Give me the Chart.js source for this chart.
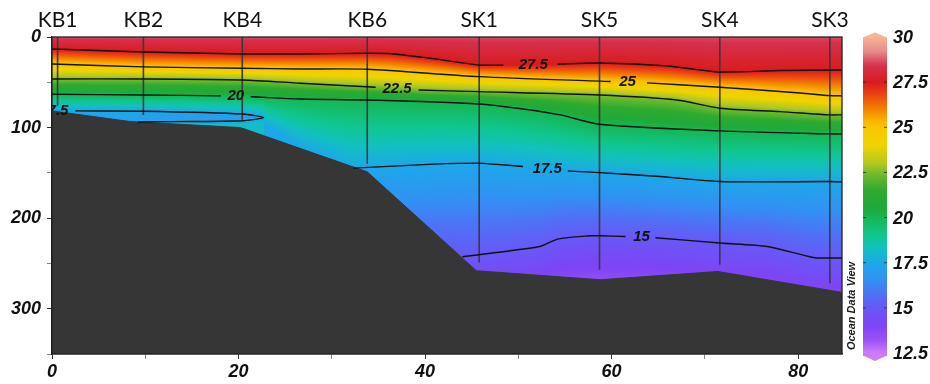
<!DOCTYPE html>
<html>
<head>
<meta charset="utf-8">
<script src="https://cdn.jsdelivr.net/npm/chart.js@4.4.1/dist/chart.umd.min.js"></script>
<style>
  html, body { margin: 0; padding: 0; background: #ffffff; }
  #wrap { width: 930px; height: 384px; position: relative; }
</style>
</head>
<body>
<div id="wrap"><canvas id="section" width="930" height="384"></canvas></div>
<script>
// ---- Stations along the transect ----
const stationNames = ['KB1', 'KB2', 'KB4', 'KB6', 'SK1', 'SK5', 'SK4', 'SK3'];
const stationKm    = [0.6, 9.8, 20.4, 33.8, 45.8, 58.7, 71.6, 83.4];
const castDepth    = [76, 86, 91.5, 140, 249, 257, 251.5, 272];

// ---- Sea floor profile (km, m) ----
const bottomKm    = [0, 8.4, 20.2, 33.8, 45.5, 58.8, 71.4, 84.7];
const bottomDepth = [81.6, 93.4, 100, 148.9, 258.1, 268, 258.9, 282];

// ---- Isotherms: [distance km, depth m] ----
const iso27_5 = [[0,13.2],[9.8,16.5],[20.4,18.7],[26.6,18.7],[33.8,18],[36.3,18.5],[40.9,24],[45.8,30.9],[48.4,31],[51.6,31],[54.2,30],[58.7,28.7],[66,32],[71.6,38.6],[78,37],[84.7,36.4]];
const iso25   = [[0,29.8],[9.8,33],[20.4,34.5],[26.6,35.3],[33.8,35.6],[45.8,43.8],[59.9,49.2],[61.7,50],[63.8,50.7],[71.6,55.5],[80.2,61.8],[83.4,64.7],[84.7,65]];
const iso22_5 = [[0,46.3],[9.8,46.3],[20.4,47.4],[26.6,51],[34.7,55.5],[37,57],[39.3,58.5],[45.8,60.3],[58.7,64],[67,69.5],[71.6,78.6],[78.1,82.4],[83.4,86],[84.7,86]];
const iso20   = [[0,63.2],[9.8,64],[18.1,65],[19.7,65.5],[21.3,66],[26.6,68.4],[33.8,69.5],[45.8,73.9],[49.9,78.6],[54.5,86],[58.7,96.3],[71.6,103.7],[83.4,107],[84.7,107]];
const iso17_5 = [[32.3,144.8],[40.9,140.4],[45.8,139.3],[47.3,140.4],[50.5,143],[53.1,145.6],[55.3,147.8],[58.7,149.7],[65.2,154],[71.6,159.6],[83.4,159.6],[84.7,160]];
const iso15   = [[44,242.6],[52.3,231.3],[54.2,223.1],[57.7,219.5],[58.7,219.5],[61.5,220.3],[63.2,220.9],[64.7,221.7],[71.6,227.5],[76.7,231.3],[81.6,243.4],[83.4,244],[84.7,244]];
// closed 17.5 pocket over the shelf
const lensUpper = [[0,81],[2.5,81.6],[9.8,82],[20.4,85],[22.7,89]];
const lensLower = [[22.7,89],[20.4,92.4],[12.7,93.4],[9.2,93.8]];
// 17.5 level on the outer shelf, where it runs along the sea floor (shading only)
const iso17_5Shelf = [[22.7,96],[27,122],[32.3,144.8]];

// ---- Isotherm labels ----
const labelText    = ['27.5', '25', '22.5', '20', '17.5', '15', '17.5'];
const labelKm      = [51.6, 61.7, 37.0, 19.7, 53.1, 63.2, 0.2];
const labelDepth   = [31, 50, 57, 65.5, 145.6, 220.9, 81];
const labelGapFrom = [48.4, 59.9, 34.7, 18.1, 50.5, 61.5, 0];
const labelGapTo   = [54.2, 63.8, 39.3, 21.3, 55.3, 64.7, 2.5];

// ---- Temperature scale ----
const colorbarTicks = [30, 27.5, 25, 22.5, 20, 17.5, 15, 12.5];
const surfaceTemp = 28.6;

const paletteTemp  = [12.5, 13.2, 14, 15, 15.8, 16.5, 17.5, 18.3, 19, 20, 20.5, 21.5, 22.5, 23, 24, 25, 25.3, 26, 26.8, 27.5, 28.4, 29.2, 30];
const paletteColor = ['#cc7cf8','#9c52f8','#7e44f6','#6858f6','#4e72f6','#3290f4','#1ca8e8','#12c0c0','#10c690','#16b652','#1eaa3a','#2eaa30','#78bc2c','#b4c820','#eed400','#f8c600','#f8b800','#f48200','#ec4412','#d81c1e','#d6304e','#e68a8c','#f6b690'];

function hexRgb(h) { return [parseInt(h.slice(1,3),16), parseInt(h.slice(3,5),16), parseInt(h.slice(5,7),16)]; }
const paletteRgb = paletteColor.map(hexRgb);
const LUT_N = 1024, lut = [];
for (let i = 0; i < LUT_N; i++) {
  const t = 12.5 + (30 - 12.5) * i / (LUT_N - 1);
  let k = 1; while (k < paletteTemp.length - 1 && t > paletteTemp[k]) k++;
  const f = Math.min(1, Math.max(0, (t - paletteTemp[k-1]) / (paletteTemp[k] - paletteTemp[k-1])));
  const a = paletteRgb[k-1], b = paletteRgb[k];
  lut.push([a[0]+(b[0]-a[0])*f, a[1]+(b[1]-a[1])*f, a[2]+(b[2]-a[2])*f].map(Math.round));
}
function colorFor(t) {
  const i = Math.round((Math.min(30, Math.max(12.5, t)) - 12.5) / 17.5 * (LUT_N - 1));
  return lut[i];
}

function interp(pts, x) {
  if (x <= pts[0][0]) return pts[0][1];
  for (let i = 1; i < pts.length; i++) {
    if (x <= pts[i][0]) {
      const [x0, y0] = pts[i-1], [x1, y1] = pts[i];
      return y0 + (y1 - y0) * (x - x0) / (x1 - x0);
    }
  }
  return pts[pts.length-1][1];
}
const lensLowerAsc = lensLower.slice().sort((a, b) => a[0] - b[0]);
const lensTipKm = lensUpper[lensUpper.length-1][0];

// temperature profile at one distance, built from the isotherm depths
function profileAt(km) {
  const nodes = [[0, surfaceTemp], [interp(iso27_5, km), 27.5], [interp(iso25, km), 25], [interp(iso22_5, km), 22.5], [interp(iso20, km), 20]];
  let lens = null, grad17 = 0.025;
  if (km >= iso17_5[0][0]) nodes.push([interp(iso17_5, km), 17.5]);
  else if (km <= lensTipKm) {
    const u = interp(lensUpper, km);
    nodes.push([u, 17.5]);
    if (km >= lensLowerAsc[0][0]) lens = { u, l: interp(lensLowerAsc, km) };
  } else {
    nodes.push([interp(iso17_5Shelf, km), 17.5]);
    grad17 = 0.01;
  }
  if (km >= iso15[0][0]) nodes.push([interp(iso15, km), 15]);
  const last = nodes[nodes.length-1];
  const grad = last[1] === 17.5 ? grad17 : 0.03;
  return function (d) {
    if (lens && d > lens.u) {
      if (d < lens.l) return 17.5 - 0.35 * Math.sin(Math.PI * (d - lens.u) / Math.max(0.5, lens.l - lens.u));
      return Math.min(17.5 + 0.12 * (d - lens.l), 18.2);
    }
    if (d >= last[0]) return Math.max(12.6, last[1] - grad * (d - last[0]));
    for (let n = 1; n < nodes.length; n++) {
      if (d <= nodes[n][0]) {
        const [d0, t0] = nodes[n-1], [d1, t1] = nodes[n];
        return t0 + (t1 - t0) * (d - d0) / Math.max(1e-6, d1 - d0);
      }
    }
    return last[1];
  };
}

// paints the gridded temperature field under the datasets
const fieldPlugin = {
  id: 'tempField',
  beforeDatasetsDraw(chart) {
    const { ctx, chartArea: a, scales: { x, y } } = chart;
    const w = Math.round(a.right - a.left), h = Math.round(a.bottom - a.top);
    const off = document.createElement('canvas');
    off.width = w; off.height = h;
    const octx = off.getContext('2d');
    const img = octx.createImageData(w, h);
    const depths = new Float32Array(h);
    for (let j = 0; j < h; j++) depths[j] = y.getValueForPixel(a.top + j + 0.5);
    for (let i = 0; i < w; i++) {
      const prof = profileAt(x.getValueForPixel(a.left + i + 0.5));
      for (let j = 0; j < h; j++) {
        const c = colorFor(prof(depths[j]));
        const k = (j * w + i) * 4;
        img.data[k] = c[0]; img.data[k+1] = c[1]; img.data[k+2] = c[2]; img.data[k+3] = 255;
      }
    }
    octx.putImageData(img, 0, 0);
    ctx.save();
    ctx.drawImage(off, a.left, a.top);
    ctx.restore();
  }
};

// isotherm labels, station names, frame, colour bar
const decorPlugin = {
  id: 'decor',
  afterDatasetsDraw(chart) {
    const { ctx, chartArea: a, scales: { x, y } } = chart;
    ctx.save();
    ctx.beginPath(); ctx.rect(a.left, a.top, a.right - a.left, a.bottom - a.top); ctx.clip();
    ctx.font = 'italic bold 15px "Liberation Sans", Arial, sans-serif';
    ctx.fillStyle = '#111';
    ctx.textAlign = 'center'; ctx.textBaseline = 'middle';
    labelText.forEach((t, i) => ctx.fillText(t, x.getPixelForValue(labelKm[i]), y.getPixelForValue(labelDepth[i])));
    ctx.restore();
  },
  afterDraw(chart) {
    const { ctx, chartArea: a, scales: { x } } = chart;
    ctx.save();
    // frame
    ctx.strokeStyle = '#222'; ctx.lineWidth = 1.3;
    ctx.strokeRect(a.left, a.top, a.right - a.left, a.bottom - a.top);
    // station names
    ctx.font = '21px Lato, "Liberation Sans", sans-serif';
    ctx.fillStyle = '#111'; ctx.textAlign = 'center'; ctx.textBaseline = 'alphabetic';
    stationNames.forEach((n, i) => ctx.fillText(n, x.getPixelForValue(stationKm[i]), 27));
    // colour bar
    const bx = 863, bw = 24, yTop = a.top, yBot = a.top + 316;
    const tToY = t => yTop + (30 - t) / 17.5 * (yBot - yTop);
    for (let py = Math.floor(yTop); py < yBot + 3; py++) {
      const t = 30 - (py + 0.5 - yTop) / (yBot - yTop) * 17.5;
      const c = colorFor(t);
      ctx.fillStyle = `rgb(${c[0]},${c[1]},${c[2]})`;
      ctx.fillRect(bx, py, bw, 1);
    }
    let c = colorFor(30);
    ctx.fillStyle = `rgb(${c[0]},${c[1]},${c[2]})`;
    ctx.beginPath(); ctx.moveTo(bx, yTop + 0.5); ctx.lineTo(bx + bw / 2, yTop - 4.5); ctx.lineTo(bx + bw, yTop + 0.5); ctx.closePath(); ctx.fill();
    c = colorFor(12.5);
    ctx.fillStyle = `rgb(${c[0]},${c[1]},${c[2]})`;
    ctx.beginPath(); ctx.moveTo(bx, yBot + 2.5); ctx.lineTo(bx + bw / 2, yBot + 8); ctx.lineTo(bx + bw, yBot + 2.5); ctx.closePath(); ctx.fill();
    ctx.strokeStyle = 'rgba(40,40,40,0.8)'; ctx.lineWidth = 1;
    ctx.font = 'italic bold 18px "Liberation Sans", Arial, sans-serif';
    ctx.fillStyle = '#111'; ctx.textAlign = 'left'; ctx.textBaseline = 'middle';
    colorbarTicks.forEach(t => {
      const ty = tToY(t);
      if (t < 30 && t > 12.5) {
        ctx.beginPath();
        ctx.moveTo(bx, ty); ctx.lineTo(bx + 3, ty);
        ctx.moveTo(bx + bw - 3, ty); ctx.lineTo(bx + bw, ty);
        ctx.stroke();
      }
      ctx.fillText(String(t), 893, ty + 1);
    });
    // watermark
    ctx.translate(852, 306);
    ctx.rotate(-Math.PI / 2);
    ctx.font = 'italic bold 11px "Liberation Sans", Arial, sans-serif';
    ctx.fillStyle = '#1a1a1a'; ctx.textAlign = 'center'; ctx.textBaseline = 'middle';
    ctx.fillText('Ocean Data View', 0, 0);
    ctx.restore();
  }
};

const toXY = pts => pts.map(([x, y]) => ({ x, y }));
function gapStyle(from, to) {
  return ctx => {
    const a = ctx.p0.parsed.x, b = ctx.p1.parsed.x;
    const inside = v => v >= from - 1e-6 && v <= to + 1e-6;
    return (inside(a) && inside(b)) ? 'rgba(0,0,0,0)' : '#111';
  };
}

const isolines = [iso27_5, iso25, iso22_5, iso20, iso17_5, iso15, lensUpper.concat(lensLower.slice(1))];
const datasets = [];
datasets.push({
  data: bottomKm.map((k, i) => ({ x: k, y: bottomDepth[i] })),
  showLine: true, fill: { value: 350 }, backgroundColor: '#363636', borderColor: '#363636',
  borderWidth: 1, pointRadius: 0, order: 10
});
isolines.forEach((pts, i) => datasets.push({
  data: toXY(pts), showLine: true, fill: false, borderColor: '#111', borderWidth: 1.4,
  pointRadius: 0, tension: 0.25, order: 1,
  segment: { borderColor: gapStyle(labelGapFrom[i], labelGapTo[i]) }
}));
stationKm.forEach((k, i) => datasets.push({
  data: [{ x: k, y: 0 }, { x: k, y: castDepth[i] }], showLine: true, fill: false,
  borderColor: '#3a3a3a', borderWidth: 1.6, pointRadius: 0, order: 2
}));

const tickFont = { family: '"Liberation Sans", Arial, sans-serif', size: 18, style: 'italic', weight: 'bold' };
new Chart(document.getElementById('section'), {
  type: 'scatter',
  data: { datasets },
  options: {
    responsive: false, animation: false, events: [],
    layout: { padding: { top: 37, right: 88, left: 0, bottom: 0 } },
    plugins: { legend: { display: false }, tooltip: { enabled: false } },
    scales: {
      x: {
        type: 'linear', min: 0, max: 84.7, position: 'bottom',
        ticks: { stepSize: 10, includeBounds: false, autoSkip: false, maxRotation: 0, padding: 2, color: '#111', font: tickFont,
                 callback: v => (Math.abs(v % 20) < 1e-6 ? String(v) : '') },
        grid: { drawOnChartArea: false, drawTicks: true, tickLength: 5, color: c => (c.tick && c.tick.value % 20 ? '#888' : '#333') },
        border: { display: true, color: '#222', width: 1.3 },
        afterFit: s => { s.height = 30; }
      },
      y: {
        type: 'linear', min: 0, max: 350, reverse: true,
        ticks: { stepSize: 50, autoSkip: false, padding: 6, color: '#111', font: tickFont,
                 callback: v => (v % 100 === 0 ? String(v) : '') },
        grid: { drawOnChartArea: false, drawTicks: true, tickLength: 5, color: c => (c.tick && c.tick.value % 100 ? '#888' : '#333') },
        border: { display: true, color: '#222', width: 1.3 },
        afterFit: s => { s.width = 52; }
      }
    }
  },
  plugins: [fieldPlugin, decorPlugin]
});
</script>
</body>
</html>
